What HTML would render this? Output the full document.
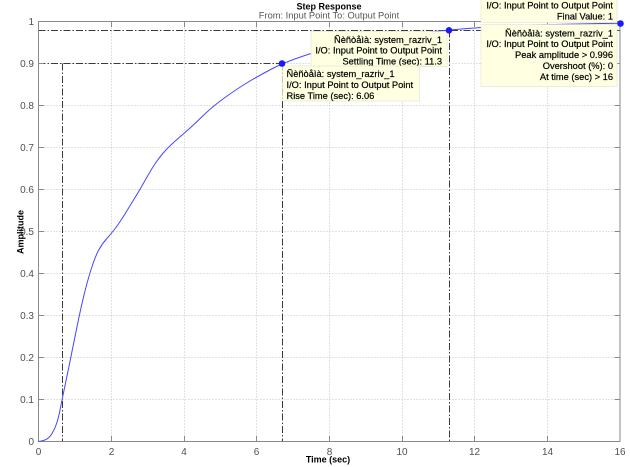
<!DOCTYPE html>
<html><head><meta charset="utf-8"><style>
html,body{margin:0;padding:0;background:#fff;}
svg{display:block;}
text{font-family:"Liberation Sans",Arial,sans-serif;}
</style></head><body>
<svg width="630" height="467" viewBox="0 0 630 467" xmlns="http://www.w3.org/2000/svg">
<rect width="630" height="467" fill="#fff"/>
<!-- grid -->
<g stroke="#c4c4c4" stroke-width="1" stroke-dasharray="1 2" fill="none">
<line x1="111.5" y1="21.5" x2="111.5" y2="441.5"/>
<line x1="184.5" y1="21.5" x2="184.5" y2="441.5"/>
<line x1="256.5" y1="21.5" x2="256.5" y2="441.5"/>
<line x1="329.5" y1="21.5" x2="329.5" y2="441.5"/>
<line x1="402.5" y1="21.5" x2="402.5" y2="441.5"/>
<line x1="474.5" y1="21.5" x2="474.5" y2="441.5"/>
<line x1="547.5" y1="21.5" x2="547.5" y2="441.5"/>
<line x1="38.5" y1="399.5" x2="620" y2="399.5"/>
<line x1="38.5" y1="357.5" x2="620" y2="357.5"/>
<line x1="38.5" y1="315.5" x2="620" y2="315.5"/>
<line x1="38.5" y1="273.5" x2="620" y2="273.5"/>
<line x1="38.5" y1="231.5" x2="620" y2="231.5"/>
<line x1="38.5" y1="189.5" x2="620" y2="189.5"/>
<line x1="38.5" y1="147.5" x2="620" y2="147.5"/>
<line x1="38.5" y1="105.5" x2="620" y2="105.5"/>
<line x1="38.5" y1="63.5" x2="620" y2="63.5"/>
</g>
<!-- characteristic lines -->
<g stroke="#3a3a3a" stroke-width="1" stroke-dasharray="7 2 1.5 2" fill="none">
<line x1="38.5" y1="63.5" x2="282" y2="63.5"/>
<line x1="62.5" y1="63.5" x2="62.5" y2="441.5"/>
<line x1="282.5" y1="63.5" x2="282.5" y2="441.5"/>
<line x1="38.5" y1="30.5" x2="620" y2="30.5"/>
<line x1="449.5" y1="30.5" x2="449.5" y2="441.5"/>
</g>
<!-- axes box -->
<rect x="38.5" y="21.5" width="581.5" height="420" fill="none" stroke="#8a8a8a" stroke-width="1"/>
<!-- ticks -->
<g stroke="#8a8a8a" stroke-width="1">
<line x1="111.5" y1="441.5" x2="111.5" y2="436"/><line x1="111.5" y1="21.5" x2="111.5" y2="27"/>
<line x1="184.5" y1="441.5" x2="184.5" y2="436"/><line x1="184.5" y1="21.5" x2="184.5" y2="27"/>
<line x1="256.5" y1="441.5" x2="256.5" y2="436"/><line x1="256.5" y1="21.5" x2="256.5" y2="27"/>
<line x1="329.5" y1="441.5" x2="329.5" y2="436"/><line x1="329.5" y1="21.5" x2="329.5" y2="27"/>
<line x1="402.5" y1="441.5" x2="402.5" y2="436"/><line x1="402.5" y1="21.5" x2="402.5" y2="27"/>
<line x1="474.5" y1="441.5" x2="474.5" y2="436"/><line x1="474.5" y1="21.5" x2="474.5" y2="27"/>
<line x1="547.5" y1="441.5" x2="547.5" y2="436"/><line x1="547.5" y1="21.5" x2="547.5" y2="27"/>
<line x1="38.5" y1="399.5" x2="44" y2="399.5"/><line x1="620" y1="399.5" x2="614.5" y2="399.5"/>
<line x1="38.5" y1="357.5" x2="44" y2="357.5"/><line x1="620" y1="357.5" x2="614.5" y2="357.5"/>
<line x1="38.5" y1="315.5" x2="44" y2="315.5"/><line x1="620" y1="315.5" x2="614.5" y2="315.5"/>
<line x1="38.5" y1="273.5" x2="44" y2="273.5"/><line x1="620" y1="273.5" x2="614.5" y2="273.5"/>
<line x1="38.5" y1="231.5" x2="44" y2="231.5"/><line x1="620" y1="231.5" x2="614.5" y2="231.5"/>
<line x1="38.5" y1="189.5" x2="44" y2="189.5"/><line x1="620" y1="189.5" x2="614.5" y2="189.5"/>
<line x1="38.5" y1="147.5" x2="44" y2="147.5"/><line x1="620" y1="147.5" x2="614.5" y2="147.5"/>
<line x1="38.5" y1="105.5" x2="44" y2="105.5"/><line x1="620" y1="105.5" x2="614.5" y2="105.5"/>
<line x1="38.5" y1="63.5" x2="44" y2="63.5"/><line x1="620" y1="63.5" x2="614.5" y2="63.5"/>
</g>
<!-- y tick labels -->
<g font-size="10" fill="#505050" text-anchor="end">
<text x="34" y="445">0</text>
<text x="34" y="403">0.1</text>
<text x="34" y="361">0.2</text>
<text x="34" y="319">0.3</text>
<text x="34" y="277">0.4</text>
<text x="34" y="235">0.5</text>
<text x="34" y="193">0.6</text>
<text x="34" y="151">0.7</text>
<text x="34" y="109">0.8</text>
<text x="34" y="67">0.9</text>
<text x="34" y="25">1</text>
</g>
<!-- x tick labels -->
<g font-size="10" fill="#505050" text-anchor="middle">
<text x="38.5" y="455">0</text>
<text x="111.5" y="455">2</text>
<text x="184" y="455">4</text>
<text x="256.5" y="455">6</text>
<text x="329.5" y="455">8</text>
<text x="402" y="455">10</text>
<text x="474.5" y="455">12</text>
<text x="547.5" y="455">14</text>
<text x="620" y="455">16</text>
</g>
<!-- axis labels & title -->
<text x="328" y="462.5" font-size="9" font-weight="bold" text-anchor="middle" fill="#000">Time (sec)</text>
<text transform="translate(23.5,232) rotate(-90)" font-size="9" font-weight="bold" text-anchor="middle" fill="#000">Amplitude</text>
<text x="329" y="9.5" font-size="9" font-weight="bold" text-anchor="middle" fill="#000">Step Response</text>
<text x="329" y="18.5" font-size="9.3" text-anchor="middle" fill="#555">From: Input Point  To: Output Point</text>
<!-- curve -->
<path fill="none" stroke="#4646ff" stroke-width="1" stroke-linejoin="round" d="M38.5,441.5 Q44,440.8 47,438.9 Q50,437 52.5,432.75 Q55,428.5 56.85,422.75 Q58.7,417 60.4,408.25 Q62.1,399.5 64.3,389 Q66.5,378.5 68.65,368 Q70.8,357.5 72.9,347 Q75,336.5 77.15,326 Q79.3,315.5 81.65,305 Q84,294.5 86.75,284.25 Q89.5,274 92.5,265 Q95.5,256 98.75,250 Q102,244 106,239.5 Q110,235 114,230 Q118,225 122.4,218 Q126.8,211 133.4,200.25 Q140,189.5 145.75,179.25 Q151.5,169 155.25,163.5 Q159,158 163,153.25 Q167,148.5 172.5,143.5 Q178,138.5 185,132.5 Q192,126.5 202.45,116.25 Q212.9,106 226.35,96.5 Q239.8,87 250,81 Q260.2,75 271.1,69.25 Q282,63.5 296.9,58.25 Q311.8,53 324.15,49.65 Q336.5,46.3 351.05,43.35 Q365.6,40.4 383.75,37.7 Q401.9,35 425.5,32.45 Q449.1,29.9 465.45,28.65 Q481.8,27.4 496.35,26.45 Q510.9,25.5 529.1,25.05 Q547.3,24.6 565.45,24.2 Q583.6,23.8 601.8,23.55 L620,23.3"/>
<!-- data tip boxes -->
<g font-size="9.3" fill="#000" stroke="#000" stroke-width="0.2">
<rect x="481" y="-12" width="136" height="34.5" fill="#ffffe1" stroke="#e2e2cc" stroke-width="0.6"/>
<text x="613" y="-2" text-anchor="end">Ñèñòåìà: system_razriv_1</text>
<text x="613" y="8.5" text-anchor="end">I/O: Input Point to Output Point</text>
<text x="613" y="19.5" text-anchor="end">Final Value: 1</text>

<rect x="481" y="24.5" width="136" height="62" fill="#ffffe1" stroke="#e2e2cc" stroke-width="0.6"/>
<text x="613" y="36.5" text-anchor="end">Ñèñòåìà: system_razriv_1</text>
<text x="613" y="47" text-anchor="end">I/O: Input Point to Output Point</text>
<text x="613" y="58" text-anchor="end">Peak amplitude &gt; 0.996</text>
<text x="613" y="69" text-anchor="end">Overshoot (%): 0</text>
<text x="613" y="80" text-anchor="end">At time (sec) &gt; 16</text>

<rect x="311" y="31.5" width="136" height="35" fill="#ffffe1" stroke="#e2e2cc" stroke-width="0.6"/>
<text x="442" y="43" text-anchor="end">Ñèñòåìà: system_razriv_1</text>
<text x="442" y="53.5" text-anchor="end">I/O: Input Point to Output Point</text>
<text x="442" y="64.5" text-anchor="end">Settling Time (sec): 11.3</text>

<rect x="282.5" y="66" width="137" height="35" fill="#ffffe1" stroke="#e2e2cc" stroke-width="0.6"/>
<text x="286.5" y="77">Ñèñòåìà: system_razriv_1</text>
<text x="286.5" y="88">I/O: Input Point to Output Point</text>
<text x="286.5" y="99">Rise Time (sec): 6.06</text>
</g>
<!-- markers -->
<g fill="#1a1aff">
<circle cx="282" cy="63.5" r="3.3"/>
<circle cx="449" cy="30.3" r="3.3"/>
<circle cx="620.5" cy="23.5" r="3.3"/>
</g>
</svg>
</body></html>
